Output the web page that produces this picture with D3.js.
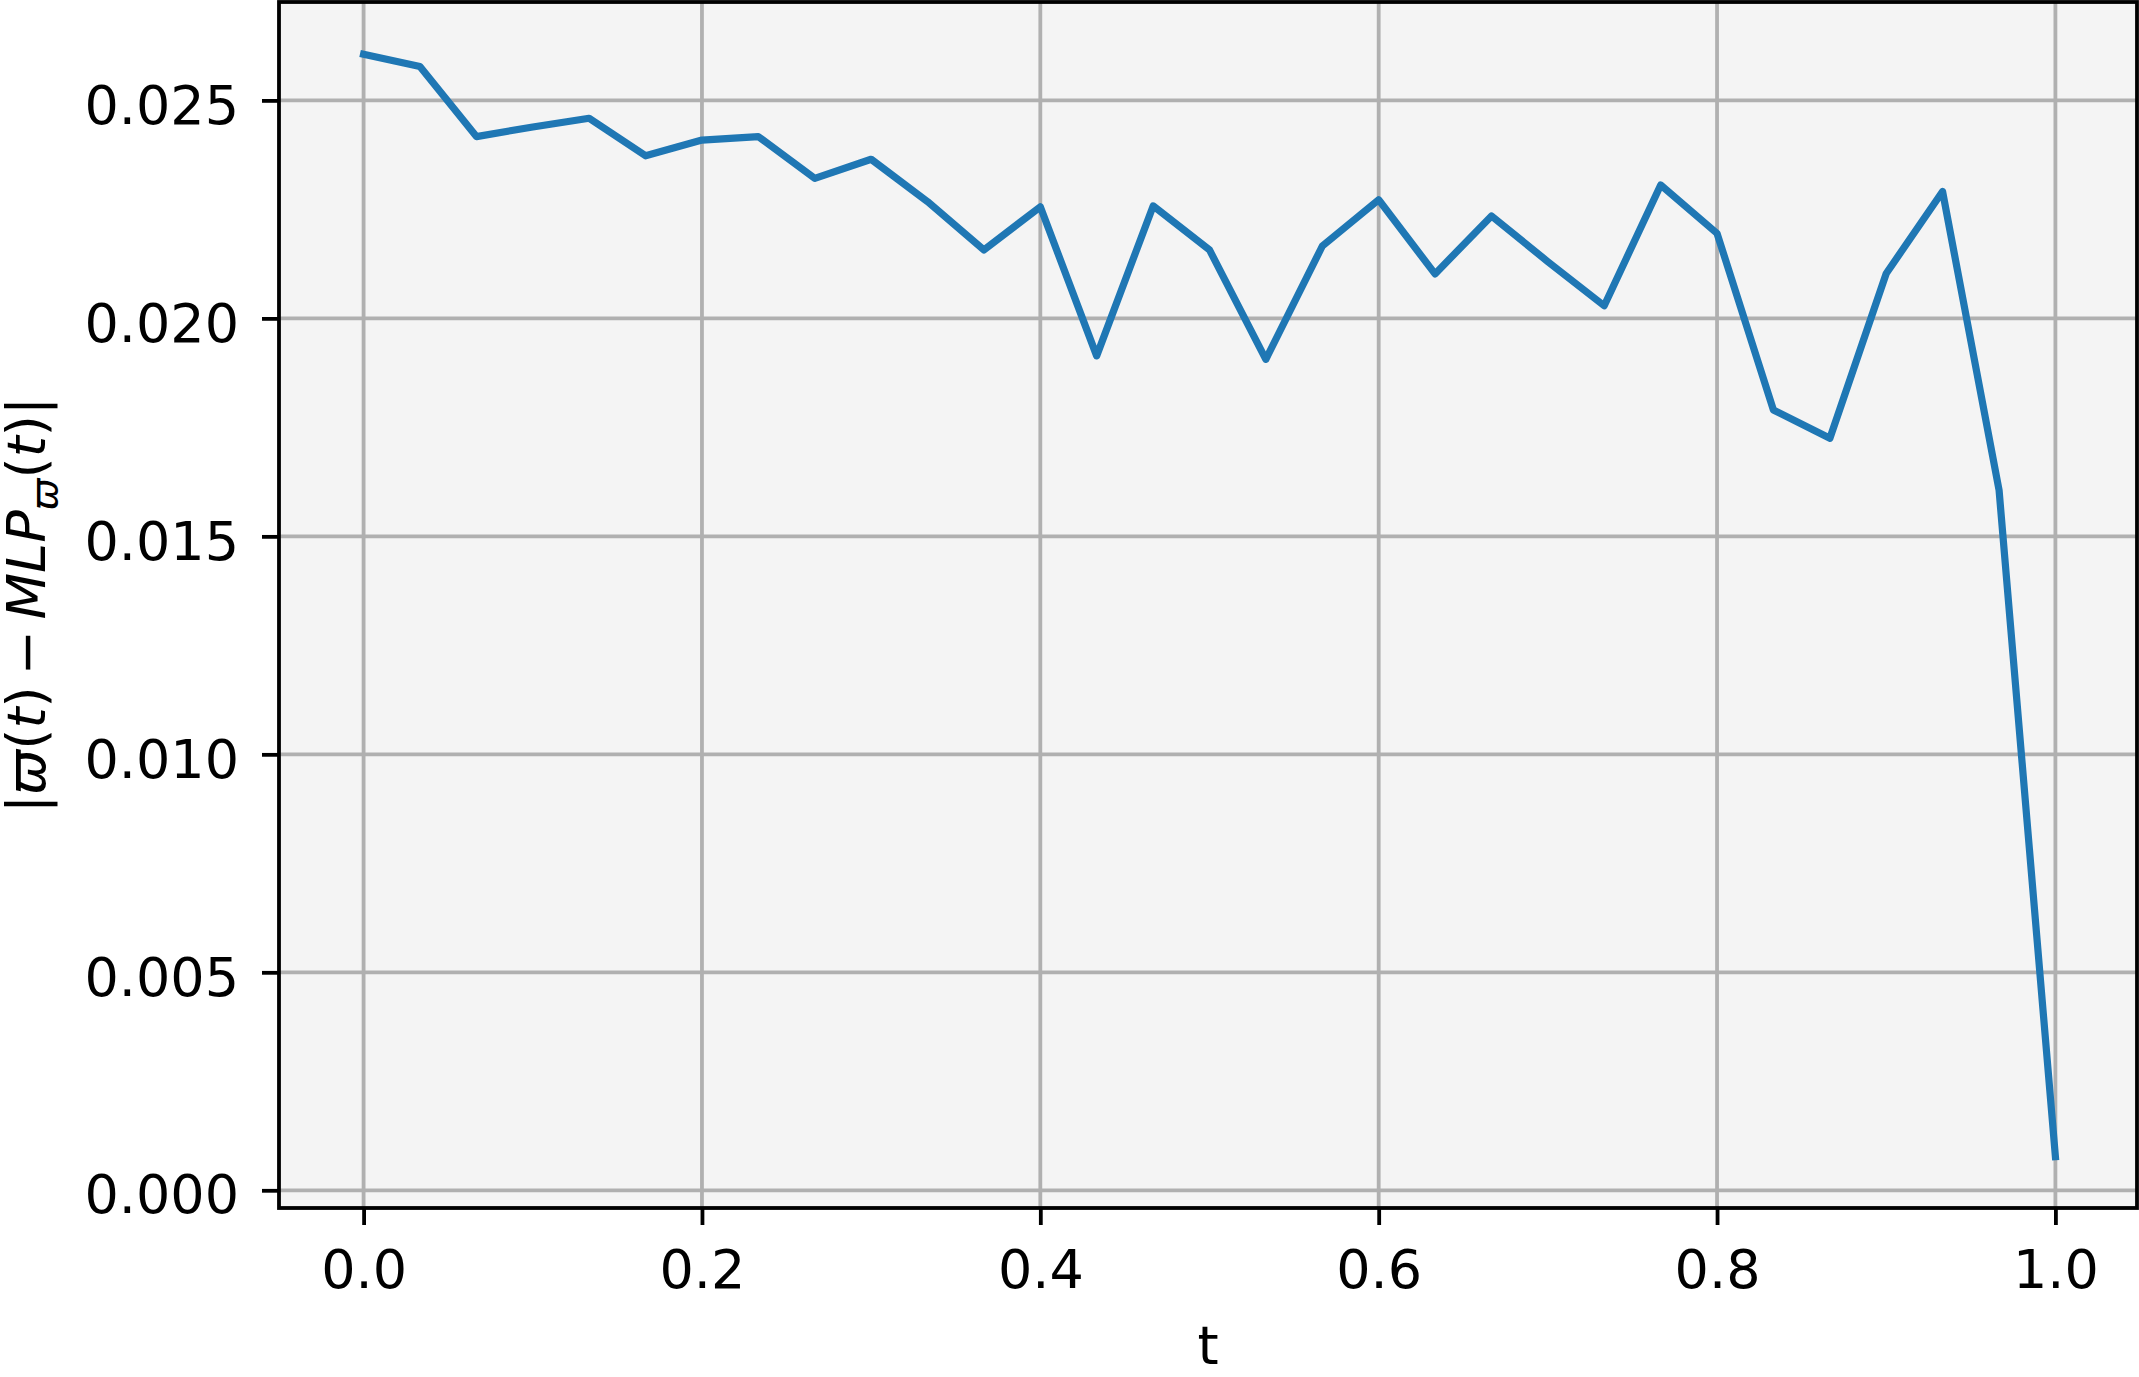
<!DOCTYPE html>
<html>
<head>
<meta charset="utf-8">
<script src="https://cdn.jsdelivr.net/npm/d3@7"></script>
<style>
  body { margin: 0; background: #fff; }
  svg { display: block; font-family: 'DejaVu Sans', sans-serif; }
</style>
</head>
<body>
<svg width="2139" height="1377"></svg>
<script>
var svg = d3.select('svg'),
  width = +svg.attr('width'),
  height = +svg.attr('height');

// sample times and error values
var tValues = [0.0000, 0.0333, 0.0667, 0.1000, 0.1333, 0.1667, 0.2000, 0.2333, 0.2667, 0.3000,
  0.3333, 0.3667, 0.4000, 0.4333, 0.4667, 0.5000, 0.5333, 0.5667, 0.6000, 0.6333,
  0.6667, 0.7000, 0.7333, 0.7667, 0.8000, 0.8333, 0.8667, 0.9000, 0.9333, 0.9667, 1.0000];
var errValues = [0.02606, 0.02578, 0.02417, 0.02439, 0.02459, 0.02373, 0.02409, 0.02417, 0.02321, 0.02365,
  0.02268, 0.02157, 0.02256, 0.01914, 0.02258, 0.02157, 0.01906, 0.02166, 0.02272, 0.02102,
  0.02235, 0.02130, 0.02029, 0.02306, 0.02195, 0.01790, 0.01725, 0.02103, 0.02291, 0.01606, 0.00077];

var xTicks = [0.0, 0.2, 0.4, 0.6, 0.8, 1.0];
var yTicks = [0.000, 0.005, 0.010, 0.015, 0.020, 0.025];

var plot = {left: 279, right: 2137, top: 2, bottom: 1208};

var x = d3.scaleLinear().domain([-0.05, 1.05]).range([plot.left, plot.left + 1861]);
var y = d3.scaleLinear().domain([-0.000406, 0.02728]).range([plot.bottom, 1]);

var fontSize = 54;

// background
svg.append('rect')
  .attr('x', plot.left)
  .attr('y', plot.top)
  .attr('width', plot.right - plot.left)
  .attr('height', plot.bottom - plot.top)
  .attr('fill', '#f4f4f4');

/* ---
GRID
--- */
var grid = svg.append('g').attr('stroke', '#b0b0b0').attr('stroke-width', 3.8);

grid.selectAll('.vgrid')
  .data(xTicks)
  .enter()
  .append('line')
  .attr('x1', function(d) { return x(d); })
  .attr('x2', function(d) { return x(d); })
  .attr('y1', plot.top)
  .attr('y2', plot.bottom);

grid.selectAll('.hgrid')
  .data(yTicks)
  .enter()
  .append('line')
  .attr('x1', plot.left)
  .attr('x2', plot.right)
  .attr('y1', function(d) { return y(d); })
  .attr('y2', function(d) { return y(d); });

/* ---
LINE
--- */
var line = d3.line()
  .x(function(d) { return x(d[0]); })
  .y(function(d) { return y(d[1]); });

svg.append('path')
  .datum(d3.zip(tValues, errValues))
  .attr('d', line)
  .attr('fill', 'none')
  .attr('stroke', '#1f77b4')
  .attr('stroke-width', 7.2)
  .attr('stroke-linejoin', 'round')
  .attr('stroke-linecap', 'square');

/* ---
AXES
--- */
var xAxis = d3.axisBottom(x)
  .tickValues(xTicks)
  .tickSize(17)
  .tickPadding(25)
  .tickFormat(d3.format('.1f'));

var yAxis = d3.axisLeft(y)
  .tickValues(yTicks)
  .tickSize(17)
  .tickPadding(23)
  .tickFormat(d3.format('.3f'));

var gx = svg.append('g')
  .attr('transform', 'translate(0,' + plot.bottom + ')')
  .call(xAxis);

var gy = svg.append('g')
  .attr('transform', 'translate(' + plot.left + ',0)')
  .call(yAxis);

[gx, gy].forEach(function(g) {
  g.select('.domain').remove();
  g.selectAll('.tick line').attr('stroke', '#000').attr('stroke-width', 3.8);
  g.selectAll('.tick text')
    .attr('fill', '#000')
    .style('font-family', "'DejaVu Sans', sans-serif")
    .style('font-size', fontSize + 'px');
});

gx.selectAll('.tick text').attr('dy', '0.71em');
gy.selectAll('.tick text').attr('dy', '0.42em');

// spines
svg.append('rect')
  .attr('x', plot.left)
  .attr('y', plot.top)
  .attr('width', plot.right - plot.left)
  .attr('height', plot.bottom - plot.top)
  .attr('fill', 'none')
  .attr('stroke', '#000')
  .attr('stroke-width', 3.8);

/* ---
LABELS
--- */
svg.append('text')
  .attr('x', (plot.left + plot.right) / 2)
  .attr('y', 1364)
  .attr('text-anchor', 'middle')
  .style('font-size', fontSize + 'px')
  .text('t');

// the DejaVu varpi glyph already carries its own top bar
var ylab = svg.append('text')
  .attr('transform', 'translate(45,' + ((plot.top + plot.bottom) / 2) + ') rotate(-90)')
  .attr('text-anchor', 'middle')
  .style('font-size', fontSize + 'px');

ylab.append('tspan').text('|');
ylab.append('tspan').style('font-style', 'italic').text('\u03D6');
ylab.append('tspan').text('(');
ylab.append('tspan').style('font-style', 'italic').text('t');
ylab.append('tspan').text(')\u2009\u2212\u2009');
ylab.append('tspan').style('font-style', 'italic').text('MLP');
ylab.append('tspan')
  .attr('dy', 12)
  .style('font-style', 'italic')
  .style('font-size', '38px')
  .text('\u03D6');
ylab.append('tspan').attr('dy', -12).text('(');
ylab.append('tspan').style('font-style', 'italic').text('t');
ylab.append('tspan').text(')|');
</script>
</body>
</html>
